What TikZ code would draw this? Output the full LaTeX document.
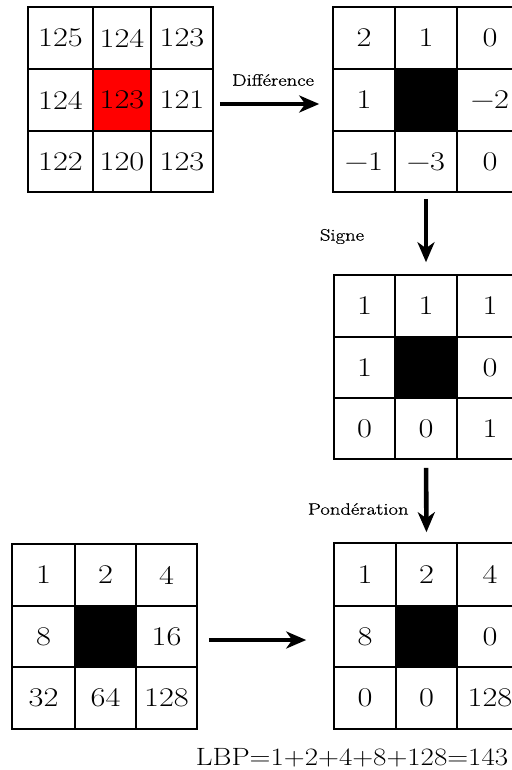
\documentclass[tikz,border=0pt]{standalone}
\usepackage{fontspec}
\usetikzlibrary{arrows.meta}

% a slightly wider cut of the text face for the grids and captions
\newfontfamily\widefont[FakeStretch=1.2]{Latin Modern Roman}
\newfontfamily\capfont[FakeStretch=1.25,FakeBold=0.8]{Latin Modern Roman}
\newfontfamily\sumfont[FakeStretch=1.16]{Latin Modern Roman}

% one grid cell: [extra style]{name}{x0}{x1}{y0}{y1}{text}
\newcommand\gcell[7][]{%
  \node[cell,#1,minimum width={#4-#3},minimum height={#6-#5}] (#2)
    at ({(#3+#4)/2},{(#5+#6)/2}) {#7};}

\tikzset{
  cell/.style={draw,line width=1.6pt,inner sep=0pt,
    font=\widefont\fontsize{27}{27}\selectfont},
  centre/.style={fill=black},
  hot/.style={fill=red},
  bigarrow/.style={line width=4.6pt,
    -{Stealth[length=20pt,width=17pt,inset=6pt]}},
  lab/.style={font=\capfont\fontsize{16.5}{16.5}\selectfont,inner sep=0pt},
}

\begin{document}
\begin{tikzpicture}[x=1pt,y=-1pt]
\useasboundingbox (0,0) rectangle (511,770);

% input neighbourhood
\gcell{a11}{28}{93}{7}{69}{125}
\gcell{a12}{93}{151}{7}{69}{124}
\gcell{a13}{151}{213}{7}{69}{123}
\gcell{a21}{28}{93}{69}{131}{124}
\gcell[hot]{a22}{93}{151}{69}{131}{123}
\gcell{a23}{151}{213}{69}{131}{121}
\gcell{a31}{28}{93}{131}{192}{122}
\gcell{a32}{93}{151}{131}{192}{120}
\gcell{a33}{151}{213}{131}{192}{123}

% differences with the centre
\gcell{b11}{333}{395}{7}{69}{2}
\gcell{b12}{395}{457}{7}{69}{1}
\gcell{b13}{457}{523}{7}{69}{0}
\gcell{b21}{333}{395}{69}{131}{1}
\gcell[centre]{b22}{395}{457}{69}{131}{}
\gcell{b23}{457}{523}{69}{131}{−2}
\gcell{b31}{333}{395}{131}{192}{−1}
\gcell{b32}{395}{457}{131}{192}{−3}
\gcell{b33}{457}{523}{131}{192}{0}

% signs
\gcell{c11}{334}{395}{275}{337}{1}
\gcell{c12}{395}{457}{275}{337}{1}
\gcell{c13}{457}{523}{275}{337}{1}
\gcell{c21}{334}{395}{337}{398}{1}
\gcell[centre]{c22}{395}{457}{337}{398}{}
\gcell{c23}{457}{523}{337}{398}{0}
\gcell{c31}{334}{395}{398}{459}{0}
\gcell{c32}{395}{457}{398}{459}{0}
\gcell{c33}{457}{523}{398}{459}{1}

% weighted result
\gcell{d11}{334}{396}{543}{606}{1}
\gcell{d12}{396}{457}{543}{606}{2}
\gcell{d13}{457}{523}{543}{606}{4}
\gcell{d21}{334}{396}{606}{667}{8}
\gcell[centre]{d22}{396}{457}{606}{667}{}
\gcell{d23}{457}{523}{606}{667}{0}
\gcell{d31}{334}{396}{667}{729}{0}
\gcell{d32}{396}{457}{667}{729}{0}
\gcell{d33}{457}{523}{667}{729}{128}

% weights
\gcell{e11}{12}{75}{544}{606}{1}
\gcell{e12}{75}{136}{544}{606}{2}
\gcell{e13}{136}{197}{544}{606}{4}
\gcell{e21}{12}{75}{606}{667}{8}
\gcell[centre]{e22}{75}{136}{606}{667}{}
\gcell{e23}{136}{197}{606}{667}{16}
\gcell{e31}{12}{75}{667}{729}{32}
\gcell{e32}{75}{136}{667}{729}{64}
\gcell{e33}{136}{197}{667}{729}{128}

% processing steps
\draw[bigarrow,shorten <=6pt,shorten >=13pt]
  ([yshift=-4pt]a23.east) -- ([yshift=-4pt]b21.west)
  node[lab,midway,yshift=24pt] (ldiff) {Différence};
\draw[bigarrow,shorten <=6pt,shorten >=12pt]
  (b32.south) -- (c12.north)
  node[lab,midway,xshift=-84pt,yshift=-3pt] (lsign) {Signe};
\draw[bigarrow,shorten <=8pt,shorten >=10pt]
  (c32.south) -- (d12.north)
  node[lab,midway,xshift=-68pt,yshift=-8pt] (lweight) {Pondération};
\draw[bigarrow,shorten <=11pt,shorten >=27pt]
  ([yshift=-3.5pt]e23.east) -- ([yshift=-3.5pt]d21.west);

\node[font=\sumfont\fontsize{25}{25}\selectfont,inner sep=0pt] (lbp)
  at (352,757.5) {LBP=1+2+4+8+128=143};
\end{tikzpicture}
\end{document}
